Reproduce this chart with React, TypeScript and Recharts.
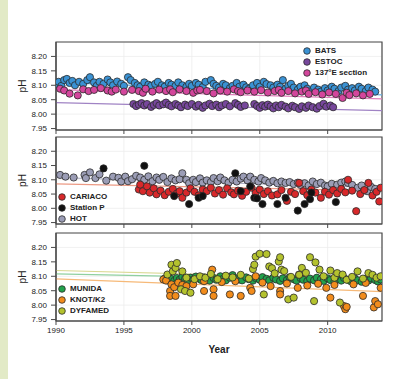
import React from 'react'
import {
  ScatterChart,
  Scatter,
  XAxis,
  YAxis,
  CartesianGrid,
  ReferenceLine,
  ReferenceArea,
  Legend,
  Label,
} from 'recharts'

type Pt = [number, number]

const YEAR_TICKS = [1990, 1995, 2000, 2005, 2010]
const PH_TICKS = [7.95, 8.0, 8.05, 8.1, 8.15, 8.2]
const YEAR_RANGE: [number, number] = [1990, 2014]
const PH_RANGE: [number, number] = [7.945, 8.25]

// panel 1
const bats: Pt[] = [
  [1990.0, 8.105], [1990.2, 8.112], [1990.4, 8.098], [1990.6, 8.118], [1990.8, 8.122],
  [1991.0, 8.108], [1991.2, 8.115], [1991.4, 8.1], [1991.7, 8.112], [1992.0, 8.105],
  [1992.3, 8.118], [1992.5, 8.128], [1992.8, 8.11], [1993.0, 8.098], [1993.2, 8.112],
  [1993.5, 8.105], [1993.8, 8.12], [1994.0, 8.11], [1994.2, 8.1], [1994.5, 8.113],
  [1994.8, 8.105], [1995.0, 8.098], [1995.3, 8.128], [1995.5, 8.118], [1995.8, 8.108],
  [1996.0, 8.1], [1996.2, 8.095], [1996.5, 8.11], [1996.8, 8.102], [1997.0, 8.098],
  [1997.3, 8.105], [1997.5, 8.112], [1997.8, 8.1], [1998.0, 8.095], [1998.3, 8.108],
  [1998.5, 8.102], [1998.8, 8.098], [1999.0, 8.11], [1999.3, 8.1], [1999.6, 8.095],
  [1999.8, 8.105], [2000.0, 8.098], [2000.3, 8.108], [2000.5, 8.102], [2000.8, 8.094],
  [2001.0, 8.112], [2001.4, 8.118], [2001.6, 8.105], [2001.8, 8.098], [2002.0, 8.092],
  [2002.3, 8.105], [2002.5, 8.1], [2002.8, 8.09], [2003.0, 8.098], [2003.3, 8.108],
  [2003.5, 8.095], [2003.8, 8.102], [2004.0, 8.093], [2004.2, 8.088], [2004.5, 8.1],
  [2004.8, 8.108], [2005.0, 8.095], [2005.3, 8.112], [2005.5, 8.104], [2005.8, 8.1],
  [2006.0, 8.092], [2006.3, 8.102], [2006.5, 8.095], [2006.7, 8.118], [2006.9, 8.088],
  [2007.1, 8.098], [2007.3, 8.105], [2007.5, 8.092], [2007.8, 8.085], [2008.0, 8.095],
  [2008.3, 8.1], [2008.5, 8.088], [2008.8, 8.08], [2009.0, 8.092], [2009.3, 8.085],
  [2009.5, 8.078], [2009.8, 8.09], [2010.0, 8.082], [2010.3, 8.095], [2010.5, 8.088],
  [2010.8, 8.08], [2011.0, 8.092], [2011.3, 8.098], [2011.5, 8.085], [2011.8, 8.09],
  [2012.0, 8.082], [2012.3, 8.095], [2012.5, 8.088], [2012.8, 8.08], [2013.0, 8.092],
  [2013.3, 8.085], [2013.5, 8.078],
]

const estoc: Pt[] = [
  [1995.7, 8.035], [1995.9, 8.028], [1996.1, 8.033], [1996.3, 8.038], [1996.5, 8.03],
  [1996.7, 8.035], [1997.0, 8.025], [1997.2, 8.032], [1997.4, 8.038], [1997.6, 8.03],
  [1997.9, 8.034], [1998.1, 8.04], [1998.3, 8.032], [1998.5, 8.027], [1998.8, 8.035],
  [1999.0, 8.03], [1999.2, 8.024], [1999.5, 8.033], [1999.7, 8.028], [2000.0, 8.035],
  [2000.3, 8.026], [2000.5, 8.032], [2000.8, 8.022], [2001.0, 8.03], [2001.3, 8.036],
  [2001.5, 8.028], [2001.8, 8.033], [2002.0, 8.024], [2002.2, 8.03], [2002.5, 8.035],
  [2002.8, 8.027], [2003.2, 8.038], [2003.4, 8.032], [2003.6, 8.025], [2003.9, 8.03],
  [2004.6, 8.035], [2004.8, 8.028], [2005.0, 8.022], [2005.2, 8.031], [2005.4, 8.026],
  [2005.6, 8.033], [2005.8, 8.027], [2006.0, 8.02], [2006.2, 8.03], [2006.4, 8.024],
  [2006.6, 8.032], [2006.9, 8.026], [2007.1, 8.02], [2007.4, 8.029], [2007.6, 8.024],
  [2007.9, 8.018], [2008.1, 8.027], [2008.4, 8.022], [2008.6, 8.03], [2008.9, 8.024],
  [2009.2, 8.019], [2009.4, 8.028], [2009.7, 8.036], [2009.9, 8.026], [2010.2, 8.03],
  [2010.4, 8.024],
]

const e137: Pt[] = [
  [1990.3, 8.088], [1990.6, 8.082], [1991.0, 8.071], [1991.6, 8.065], [1992.0, 8.086],
  [1992.4, 8.08], [1992.8, 8.084], [1993.3, 8.09], [1993.8, 8.082], [1994.1, 8.078],
  [1994.4, 8.085], [1995.0, 8.078], [1995.6, 8.084], [1996.1, 8.08], [1996.4, 8.074],
  [1996.6, 8.088], [1997.1, 8.078], [1997.6, 8.085], [1998.1, 8.08], [1998.4, 8.086],
  [1998.6, 8.076], [1999.1, 8.086], [1999.6, 8.08], [2000.1, 8.074], [2000.4, 8.082],
  [2000.6, 8.084], [2001.1, 8.08], [2001.6, 8.072], [2002.1, 8.082], [2002.6, 8.078],
  [2003.1, 8.086], [2003.4, 8.08], [2003.6, 8.076], [2004.1, 8.082], [2004.6, 8.078],
  [2005.1, 8.083], [2005.6, 8.075], [2006.1, 8.08], [2006.4, 8.084], [2006.6, 8.074],
  [2007.1, 8.08], [2007.6, 8.072], [2008.1, 8.078], [2008.4, 8.082], [2008.6, 8.07],
  [2009.1, 8.076], [2009.6, 8.068], [2010.1, 8.075], [2010.6, 8.07], [2011.1, 8.056],
  [2011.4, 8.074], [2011.6, 8.066], [2012.1, 8.072], [2012.6, 8.065], [2013.1, 8.07],
]

// panel 2
const cariaco: Pt[] = [
  [1996.1, 8.066], [1996.2, 8.083], [1996.4, 8.06], [1996.7, 8.077], [1996.9, 8.055],
  [1997.2, 8.07], [1997.4, 8.049], [1997.7, 8.062], [1998.0, 8.046], [1998.3, 8.058],
  [1998.6, 8.068], [1998.9, 8.052], [1999.1, 8.06], [1999.3, 8.037], [1999.6, 8.055],
  [1999.9, 8.07], [2000.2, 8.058], [2000.5, 8.045], [2000.8, 8.066], [2001.1, 8.06],
  [2001.4, 8.072], [2001.7, 8.052], [2002.0, 8.064], [2002.3, 8.048], [2002.6, 8.07],
  [2002.9, 8.056], [2003.1, 8.049], [2003.4, 8.062], [2003.7, 8.044], [2004.0, 8.058],
  [2004.4, 8.072], [2004.7, 8.054], [2005.0, 8.066], [2005.3, 8.05], [2005.6, 8.06],
  [2005.9, 8.045], [2006.3, 8.049], [2006.6, 8.064], [2007.0, 8.026], [2007.3, 8.058],
  [2007.6, 8.05], [2007.9, 8.089], [2008.2, 8.06], [2008.5, 8.046], [2008.8, 8.066],
  [2009.1, 8.055], [2009.5, 8.037], [2009.8, 8.058], [2010.1, 8.048], [2010.4, 8.064],
  [2010.7, 8.052], [2011.0, 8.068], [2011.3, 8.056], [2011.5, 8.1], [2011.8, 8.062],
  [2012.1, 7.99], [2012.4, 8.05], [2012.7, 8.064], [2013.0, 8.089], [2013.3, 8.045],
  [2013.6, 8.058], [2013.8, 8.024], [2013.9, 8.072],
]

const stationP: Pt[] = [
  [1993.5, 8.14], [1996.5, 8.149], [1998.7, 8.043], [1999.8, 8.015], [2000.5, 8.037],
  [2000.8, 8.043], [2003.2, 8.123], [2003.6, 8.06], [2004.3, 8.077], [2004.6, 8.037],
  [2004.8, 8.035], [2005.2, 8.015], [2006.3, 8.015], [2006.9, 8.037], [2007.8, 7.992],
  [2008.3, 8.015], [2008.7, 8.032], [2008.8, 8.055], [2010.6, 8.022],
]

const hot: Pt[] = [
  [1990.3, 8.117], [1990.7, 8.111], [1991.3, 8.108], [1992.1, 8.117], [1992.2, 8.106],
  [1992.5, 8.126], [1992.9, 8.106], [1993.2, 8.119], [1993.7, 8.097], [1994.2, 8.111],
  [1994.6, 8.107], [1994.8, 8.094], [1995.1, 8.111], [1995.3, 8.095], [1995.6, 8.102],
  [1995.9, 8.114], [1996.2, 8.108], [1996.5, 8.1], [1996.8, 8.112], [1997.1, 8.095],
  [1997.4, 8.108], [1997.6, 8.1], [1997.9, 8.11], [1998.2, 8.092], [1998.5, 8.105],
  [1998.8, 8.098], [1999.1, 8.102], [1999.3, 8.123], [1999.6, 8.1], [1999.8, 8.088],
  [2000.1, 8.1], [2000.3, 8.092], [2000.6, 8.105], [2000.8, 8.09], [2001.1, 8.098],
  [2001.4, 8.092], [2001.6, 8.106], [2001.9, 8.095], [2002.1, 8.108], [2002.4, 8.098],
  [2002.7, 8.09], [2003.0, 8.1], [2003.3, 8.094], [2003.6, 8.104], [2003.8, 8.111],
  [2004.1, 8.098], [2004.3, 8.111], [2004.6, 8.1], [2004.9, 8.094], [2005.1, 8.106],
  [2005.4, 8.098], [2005.7, 8.09], [2006.0, 8.096], [2006.3, 8.088], [2006.6, 8.094],
  [2006.9, 8.089], [2007.2, 8.092], [2007.5, 8.085], [2007.8, 8.09], [2008.0, 8.082],
  [2008.3, 8.088], [2008.6, 8.08], [2008.9, 8.094], [2009.2, 8.085], [2009.5, 8.09],
  [2009.8, 8.08], [2010.0, 8.077], [2010.3, 8.086], [2010.7, 8.083], [2011.0, 8.09],
  [2011.3, 8.094], [2011.5, 8.089], [2011.8, 8.082], [2012.2, 8.072], [2012.5, 8.08],
  [2012.9, 8.06], [2013.2, 8.075], [2013.5, 8.068],
]

// panel 3
const munida: Pt[] = [
  [1998.0, 8.092], [1998.2, 8.086], [1998.3, 8.097], [1998.5, 8.09], [1998.7, 8.084],
  [1998.9, 8.094], [1999.1, 8.088], [1999.3, 8.098], [1999.5, 8.091], [1999.7, 8.085],
  [1999.9, 8.095], [2000.1, 8.089], [2000.3, 8.099], [2000.5, 8.092], [2000.7, 8.087],
  [2000.9, 8.096], [2001.1, 8.09], [2001.3, 8.085], [2001.6, 8.094], [2001.8, 8.088],
  [2002.1, 8.1], [2002.3, 8.091], [2002.5, 8.086], [2002.8, 8.095], [2003.0, 8.104],
  [2003.2, 8.093], [2003.5, 8.089], [2003.7, 8.086], [2004.0, 8.096], [2004.2, 8.09],
  [2004.5, 8.085], [2004.7, 8.094], [2005.0, 8.088], [2005.2, 8.097], [2005.5, 8.091],
  [2005.7, 8.086], [2006.0, 8.095], [2006.2, 8.089], [2006.5, 8.084], [2006.7, 8.093],
  [2007.0, 8.087], [2007.2, 8.096], [2007.5, 8.09], [2007.7, 8.085], [2008.0, 8.094],
  [2008.2, 8.088], [2008.5, 8.083], [2008.7, 8.092], [2009.0, 8.086], [2009.2, 8.095],
  [2009.5, 8.089], [2009.7, 8.084], [2010.0, 8.093], [2010.2, 8.087], [2010.5, 8.082],
  [2010.7, 8.091], [2011.0, 8.085], [2011.2, 8.094], [2011.5, 8.088], [2011.7, 8.083],
  [2012.0, 8.092], [2012.2, 8.086], [2012.5, 8.081], [2012.7, 8.09], [2013.0, 8.085],
  [2013.2, 8.093], [2013.5, 8.087], [2013.7, 8.082], [2013.9, 8.089],
]

const knot: Pt[] = [
  [1997.9, 8.089], [1998.1, 8.085], [1998.4, 8.049], [1998.4, 8.032], [1998.5, 8.072],
  [1998.7, 8.062], [1998.8, 8.032], [1999.0, 8.078], [1999.3, 8.07], [1999.6, 8.066],
  [2000.1, 8.072], [2000.9, 8.083], [2000.9, 8.049], [2001.5, 8.123], [2001.6, 8.055],
  [2001.6, 8.032], [2002.2, 8.08], [2002.8, 8.037], [2003.2, 8.083], [2003.6, 8.032],
  [2004.3, 8.06], [2004.4, 8.049], [2004.7, 8.1], [2005.2, 8.078], [2005.8, 8.066],
  [2006.5, 8.049], [2006.5, 8.037], [2007.0, 8.075], [2007.8, 8.06], [2007.9, 8.106],
  [2008.5, 8.068], [2009.3, 8.074], [2009.9, 8.06], [2010.2, 8.026], [2010.5, 8.07],
  [2011.2, 7.997], [2011.3, 7.986], [2011.4, 7.994], [2011.9, 8.072], [2012.6, 8.032],
  [2012.8, 8.077], [2013.4, 7.992], [2013.5, 8.014], [2013.7, 8.003], [2013.9, 8.06],
]

const dyfamed: Pt[] = [
  [1998.2, 8.106], [1998.5, 8.14], [1998.6, 8.117], [1998.8, 8.129], [1998.9, 8.146],
  [1999.2, 8.055], [1999.3, 8.117], [1999.5, 8.049], [1999.6, 8.095], [1999.9, 8.043],
  [2000.2, 8.09], [2000.6, 8.1], [2001.0, 8.095], [2001.4, 8.108], [2001.9, 8.09],
  [2002.5, 8.102], [2003.0, 8.096], [2003.6, 8.105], [2004.2, 8.092], [2004.5, 8.125],
  [2004.6, 8.14], [2004.7, 8.168], [2005.0, 8.178], [2005.3, 8.037], [2005.5, 8.177],
  [2005.7, 8.134], [2005.9, 8.128], [2006.1, 8.11], [2006.4, 8.151], [2006.5, 8.166],
  [2006.6, 8.123], [2006.8, 8.118], [2007.1, 8.02], [2007.3, 8.098], [2007.5, 8.026],
  [2007.9, 8.105], [2008.1, 8.129], [2008.4, 8.112], [2008.7, 8.166], [2009.0, 8.014],
  [2009.1, 8.148], [2009.4, 8.123], [2009.7, 8.1], [2010.2, 8.12], [2010.5, 8.095],
  [2010.7, 8.111], [2010.9, 8.009], [2011.1, 8.106], [2011.4, 8.088], [2011.8, 8.098],
  [2012.2, 8.117], [2012.6, 8.092], [2013.0, 8.111], [2013.3, 8.105], [2013.6, 8.095],
  [2013.9, 8.1],
]

// fitted trend, pH at 1990 and at 2014
const batsTrend = [8.11, 8.067]
const estocTrend = [8.04, 8.012]
const e137Trend = [8.085, 8.053]
const cariacoTrend = [8.086, 8.061]
const hotTrend = [8.108, 8.072]
const munidaTrend = [8.108, 8.085]
const knotTrend = [8.091, 8.047]
const dyfamedTrend = [8.12, 8.091]

type Series = { name: string; data: Pt[]; color: string; line: string; trend: number[] }

const FONT = '"Liberation Sans", Arial, Helvetica, sans-serif'

const panel1: Series[] = [
  { name: 'BATS', data: bats, color: '#3a92d4', line: '#6aaee0', trend: batsTrend },
  { name: 'ESTOC', data: estoc, color: '#77479c', line: '#a083c4', trend: estocTrend },
  { name: '137°E section', data: e137, color: '#d3469c', line: '#e07fbc', trend: e137Trend },
]
const panel2: Series[] = [
  { name: 'CARIACO', data: cariaco, color: '#d8282a', line: '#ec9a84', trend: cariacoTrend },
  { name: 'Station P', data: stationP, color: '#111111', line: 'none', trend: [] },
  { name: 'HOT', data: hot, color: '#9b9db6', line: '#a8aac0', trend: hotTrend },
]
const panel3: Series[] = [
  { name: 'MUNIDA', data: munida, color: '#22a24c', line: '#8fd0a0', trend: munidaTrend },
  { name: 'KNOT/K2', data: knot, color: '#f28c1c', line: '#f6b978', trend: knotTrend },
  { name: 'DYFAMED', data: dyfamed, color: '#b4c22e', line: '#d8d890', trend: dyfamedTrend },
]

const dot = (color: string) => (props: any) => (
  <circle cx={props.cx} cy={props.cy} r={3.6} fill={color} stroke="#2b2b2b" strokeWidth={0.8} />
)

const legendBox = (items: Series[]) => () => (
  <div style={{ font: `bold 8px ${FONT}`, color: '#222' }}>
    {items.map((s) => (
      <div key={s.name} style={{ display: 'flex', alignItems: 'center', height: 11 }}>
        <svg width={8} height={8}>
          <circle cx={4} cy={4} r={3.3} fill={s.color} stroke="#2b2b2b" strokeWidth={0.8} />
        </svg>
        <span style={{ marginLeft: 4, whiteSpace: 'nowrap' }}>{s.name}</span>
      </div>
    ))}
  </div>
)

type PanelProps = {
  series: Series[]
  drawOrder: number[]
  top: number
  marginTop: number
  plotHeight: number
  axisHeight: number
  showYears: boolean
  legendPos: { left: number; top: number }
}

const Panel = ({ series, drawOrder, top, marginTop, plotHeight, axisHeight, showYears, legendPos }: PanelProps) => (
  <div style={{ position: 'absolute', left: 0, top }}>
    <ScatterChart
      width={400}
      height={marginTop + plotHeight + axisHeight}
      margin={{ top: marginTop, right: 18, bottom: 0, left: 0 }}
    >
      <CartesianGrid stroke="#ececec" strokeWidth={0.8} />
      <XAxis
        type="number"
        dataKey="x"
        domain={YEAR_RANGE}
        ticks={YEAR_TICKS}
        allowDataOverflow
        height={axisHeight}
        tickSize={4}
        tickMargin={2}
        axisLine={{ stroke: '#4a4a4a', strokeWidth: 1.2 }}
        tickLine={{ stroke: '#4a4a4a' }}
        tick={{ fontSize: 8, fill: '#222', fontFamily: FONT }}
        tickFormatter={(v: number) => (showYears ? String(v) : '')}
      >
        {showYears && (
          <Label
            value="Year"
            position="insideBottom"
            offset={8}
            style={{ fontSize: 10, fill: '#222', fontFamily: FONT, fontWeight: 'bold' }}
          />
        )}
      </XAxis>
      <YAxis
        type="number"
        dataKey="y"
        domain={PH_RANGE}
        ticks={PH_TICKS}
        allowDataOverflow
        width={56}
        tickSize={5}
        tickMargin={4}
        axisLine={{ stroke: '#4a4a4a', strokeWidth: 1.2 }}
        tickLine={{ stroke: '#4a4a4a' }}
        tick={{ fontSize: 8, fill: '#222', fontFamily: FONT }}
        tickFormatter={(v: number) => v.toFixed(2)}
      >
        <Label
          content={(props: any) => {
            const vb = props.viewBox || { x: 0, y: 0, height: 0 }
            const cx = vb.x + 22
            const cy = vb.y + vb.height / 2
            return (
              <text
                x={cx}
                y={cy}
                textAnchor="middle"
                dominantBaseline="central"
                transform={`rotate(-90 ${cx} ${cy})`}
                style={{ fontSize: 10, fill: '#222', fontFamily: FONT }}
              >
                pH
              </text>
            )
          }}
        />
      </YAxis>
      {series
        .filter((s) => s.trend.length === 2)
        .map((s) => (
          <ReferenceLine
            key={`trend-${s.name}`}
            segment={[
              { x: YEAR_RANGE[0], y: s.trend[0] },
              { x: YEAR_RANGE[1], y: s.trend[1] },
            ]}
            stroke={s.line}
            strokeWidth={1.2}
          />
        ))}
      {drawOrder.map((i) => {
        const s = series[i]
        return (
          <Scatter
            key={s.name}
            name={s.name}
            data={s.data.map(([x, y]) => ({ x, y }))}
            fill={s.color}
            shape={dot(s.color)}
            isAnimationActive={false}
          />
        )
      })}
      <ReferenceArea
        x1={YEAR_RANGE[0]}
        x2={YEAR_RANGE[1]}
        y1={PH_RANGE[0]}
        y2={PH_RANGE[1]}
        fill="none"
        stroke="#4a4a4a"
        strokeWidth={1.2}
      />
      <Legend
        layout="vertical"
        align="center"
        verticalAlign="middle"
        wrapperStyle={{ left: legendPos.left, top: legendPos.top, width: 'auto' }}
        content={legendBox(series)}
      />
    </ScatterChart>
  </div>
)

const App = () => (
  <div style={{ position: 'absolute', left: 0, top: 0, width: 400, height: 379, background: '#fff', overflow: 'hidden' }}>
    <div style={{ position: 'absolute', left: 0, top: 0, width: 8, height: 379, background: '#e2eac6' }} />
    <Panel
      series={panel1}
      drawOrder={[1, 0, 2]}
      top={0}
      marginTop={42}
      plotHeight={88}
      axisHeight={8}
      showYears={false}
      legendPos={{ left: 303, top: 45 }}
    />
    <Panel
      series={panel2}
      drawOrder={[2, 0, 1]}
      top={130}
      marginTop={7}
      plotHeight={87}
      axisHeight={8}
      showYears={false}
      legendPos={{ left: 58, top: 61 }}
    />
    <Panel
      series={panel3}
      drawOrder={[0, 1, 2]}
      top={226}
      marginTop={7}
      plotHeight={88}
      axisHeight={40}
      showYears={true}
      legendPos={{ left: 58, top: 57 }}
    />
  </div>
)

export default App
